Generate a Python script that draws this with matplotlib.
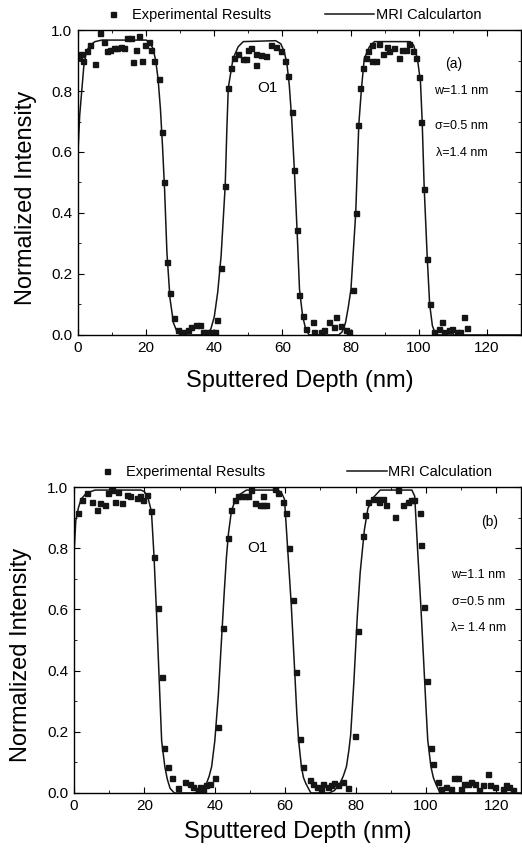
import matplotlib
matplotlib.use("Agg")
import matplotlib.pyplot as plt
from matplotlib.ticker import MultipleLocator

plt.rcParams['font.family'] = ['Liberation Sans', 'DejaVu Sans']

# ---- panel (a) ----
exp_a_x = [0.3, 0.8, 1.5, 2.5, 3.5, 5.0, 6.5, 7.5, 8.5, 9.5, 10.5, 11.5, 12.5, 13.5,
           14.5, 15.5, 16.0, 17.0, 17.8, 18.8, 19.8, 20.8, 21.5, 22.4, 23.8, 24.6,
           25.3, 26.1, 27.1, 28.1, 29.4, 30.8, 32.3, 33.3, 34.7, 35.7, 36.7, 37.7,
           39.1, 40.1, 40.8, 42.1, 43.2, 44.0, 45.0, 45.9, 46.9, 48.4, 49.4, 49.8,
           50.8, 52.3, 52.3, 53.8, 55.3, 56.7, 58.1, 59.6, 60.6, 61.5, 62.7, 63.5,
           64.3, 65.0, 65.9, 66.9, 68.9, 69.4, 71.3, 72.3, 73.8, 75.2, 75.7, 77.2,
           78.6, 79.6, 80.6, 81.5, 82.3, 82.9, 83.5, 84.5, 85.0, 86.4, 86.4, 87.4,
           88.4, 89.4, 90.8, 91.3, 92.8, 94.2, 95.2, 96.2, 97.2, 98.2, 99.1, 100.1,
           100.8, 101.6, 102.5, 103.2, 104.5, 105.9, 106.9, 107.4, 108.9, 109.8,
           111.2, 112.2, 113.3, 114.2]
exp_a_y = [0.91, 0.92, 0.90, 0.93, 0.95, 0.89, 0.99, 0.96, 0.93, 0.935, 0.94, 0.94, 0.945, 0.94,
           0.975, 0.975, 0.895, 0.935, 0.98, 0.90, 0.95, 0.96, 0.935, 0.90, 0.838, 0.667,
           0.50, 0.24, 0.137, 0.055, 0.016, 0.01, 0.016, 0.027, 0.033, 0.033, 0.01, 0.01,
           0.01, 0.01, 0.05, 0.22, 0.49, 0.81, 0.875, 0.907, 0.92, 0.905, 0.905, 0.934,
           0.94, 0.92, 0.885, 0.918, 0.915, 0.95, 0.945, 0.93, 0.90, 0.85, 0.73, 0.54,
           0.343, 0.13, 0.063, 0.02, 0.044, 0.01, 0.01, 0.016, 0.044, 0.027, 0.06, 0.03,
           0.016, 0.01, 0.148, 0.40, 0.69, 0.81, 0.875, 0.907, 0.93, 0.90, 0.95, 0.90,
           0.955, 0.92, 0.945, 0.93, 0.94, 0.907, 0.935, 0.935, 0.955, 0.93, 0.907, 0.847,
           0.70, 0.48, 0.25, 0.10, 0.011, 0.02, 0.044, 0.01, 0.016, 0.02,
           0.01, 0.01, 0.06, 0.022]

mri_a_x = [0, 0.5, 1.1, 1.7, 2.5, 3.5, 5, 7, 20, 21, 22, 22.8, 23.5, 24.2, 24.8, 25.4,
           26.1, 27.0, 28.0, 29.0, 30.0, 37.0, 38.0, 39.0, 40.0, 41.0, 42.0, 43.2, 43.7,
           44.1, 45.5, 47, 48.5, 58, 59.5, 60.5, 61.3, 62, 62.7, 63.5, 64.3, 65.0, 65.9,
           66.8, 67.8, 76.5, 77.5, 78.5, 79.3, 80.1, 81.5, 82.4, 83.2, 84.0, 85.5, 87,
           97.5, 98.5, 99.6, 100.5, 101.0, 101.6, 102.5, 103.2, 104.0, 105.0, 130]
mri_a_y = [0.60, 0.72, 0.80, 0.88, 0.93, 0.95, 0.962, 0.967, 0.967, 0.96, 0.94, 0.90, 0.84, 0.74, 0.62, 0.48,
           0.27, 0.12, 0.04, 0.012, 0.0, 0.0, 0.005, 0.02, 0.06, 0.14, 0.26, 0.49, 0.68,
           0.81, 0.906, 0.945, 0.962, 0.965, 0.955, 0.93, 0.89, 0.82, 0.71, 0.54, 0.34, 0.15, 0.063,
           0.02, 0.0, 0.0, 0.01, 0.04, 0.09, 0.15, 0.40, 0.69, 0.81, 0.906, 0.945, 0.962,
           0.962, 0.95, 0.906, 0.83, 0.70, 0.48, 0.25, 0.10, 0.03, 0.0, 0.0]

# ---- panel (b) ----
exp_b_x = [1.2, 2.2, 3.6, 5.0, 6.4, 7.4, 8.8, 9.7, 10.7, 11.6, 12.6, 13.5, 15.0, 15.9,
           17.8, 18.7, 19.7, 20.6, 22.0, 22.8, 23.9, 24.9, 25.6, 26.6, 27.7, 29.6,
           31.5, 32.9, 33.8, 35.3, 35.7, 36.6, 37.6, 38.6, 40.0, 40.9, 42.4, 43.8,
           44.7, 45.6, 46.6, 47.5, 48.5, 49.4, 50.4, 51.3, 52.7, 53.6, 53.6, 54.6,
           57.0, 58.0, 59.4, 60.3, 61.1, 62.2, 63.0, 64.1, 65.1, 67.0, 67.9, 68.9,
           70.3, 70.7, 72.1, 73.0, 74.0, 75.0, 76.4, 77.8, 79.7, 80.7, 82.1, 82.6,
           83.5, 84.9, 86.3, 86.7, 87.7, 88.7, 91.1, 92.0, 93.4, 94.8, 95.7, 96.6,
           98.2, 98.6, 99.3, 100.2, 101.3, 101.9, 103.4, 104.3, 105.8, 107.2, 108.1,
           109.0, 110.0, 110.9, 111.9, 112.8, 113.8, 115.2, 116.1, 117.6, 118.1,
           119.5, 121.8, 122.7, 123.7, 124.6]
exp_b_y = [0.914, 0.957, 0.98, 0.952, 0.925, 0.947, 0.94, 0.98, 0.99, 0.952, 0.984, 0.947, 0.974, 0.97,
           0.963, 0.97, 0.957, 0.974, 0.92, 0.772, 0.606, 0.378, 0.148, 0.086, 0.048, 0.015,
           0.037, 0.03, 0.02, 0.01, 0.02, 0.01, 0.026, 0.03, 0.048, 0.217, 0.538, 0.834,
           0.925, 0.957, 0.97, 0.97, 0.97, 0.97, 0.99, 0.947, 0.94, 0.97, 0.94, 0.94,
           0.995, 0.98, 0.952, 0.914, 0.80, 0.63, 0.394, 0.176, 0.086, 0.042, 0.03, 0.02,
           0.013, 0.03, 0.02, 0.025, 0.032, 0.025, 0.037, 0.015, 0.187, 0.53, 0.84, 0.91,
           0.952, 0.96, 0.96, 0.95, 0.96, 0.94, 0.903, 0.99, 0.94, 0.952, 0.957, 0.957,
           0.914, 0.81, 0.607, 0.367, 0.148, 0.094, 0.037, 0.013, 0.02, 0.013, 0.048,
           0.048, 0.013, 0.03, 0.03, 0.035, 0.03, 0.01, 0.026, 0.061, 0.025,
           0.02, 0.013, 0.026, 0.02, 0.01]

mri_b_x = [0, 0.5, 1.2, 2, 3.5, 6, 19, 20, 21, 22, 22.7, 23.4, 24.2, 24.9, 25.8, 26.5,
           27.3, 28.5, 34.0, 35.5, 36.5, 37.6, 38.4, 39.1, 40.0, 41.0, 42.0, 42.7, 43.3,
           43.9, 44.7, 45.7, 47, 49, 58, 59, 59.8, 60.8, 61.7, 62.6, 63.3, 63.8, 64.6,
           65.2, 65.9, 67.3, 72.5, 74.0, 75.5, 76.5, 77.4, 78.1, 78.6, 79.5, 80.5, 81.3,
           81.8, 82.5, 83.5, 85, 87, 96, 96.8, 97.7, 98.5, 99.3, 100.0, 100.5, 101.4,
           102.1, 102.8, 104.0, 127]
mri_b_y = [0.78, 0.89, 0.93, 0.96, 0.98, 0.99, 0.99, 0.985, 0.965, 0.92, 0.78, 0.60, 0.37, 0.17, 0.086, 0.045,
           0.015, 0.0, 0.0, 0.004, 0.012, 0.03, 0.055, 0.086, 0.17, 0.32, 0.52, 0.66, 0.77,
           0.85, 0.92, 0.955, 0.975, 0.99, 0.99, 0.98, 0.96, 0.78, 0.62, 0.42, 0.26, 0.173, 0.086,
           0.05, 0.03, 0.0, 0.0, 0.008, 0.03, 0.055, 0.086, 0.14, 0.19, 0.36, 0.58, 0.72,
           0.778, 0.86, 0.93, 0.965, 0.99, 0.99, 0.97, 0.778, 0.62, 0.44, 0.28, 0.173, 0.086,
           0.05, 0.03, 0.0, 0.0]

params_a = ["w=1.1 nm", "σ=0.5 nm", "λ=1.4 nm"]
params_b = ["w=1.1 nm", "σ=0.5 nm", "λ= 1.4 nm"]

fig = plt.figure(figsize=(5.22, 8.48), dpi=100)
ax_a = fig.add_axes([0.1494, 0.6050, 0.8487, 0.3596])
ax_b = fig.add_axes([0.1418, 0.0649, 0.8563, 0.3608])

panels = [
    dict(ax=ax_a, ex=exp_a_x, ey=exp_a_y, mx=mri_a_x, my=mri_a_y, xmax=130,
         mri_label="MRI Calcularton", lx1=0.066, lx2=0.557, hl=3.4,
         tag="(a)", tagpos=(0.847, 0.89), o1=(0.427, 0.81), params=params_a,
         px=0.866, py=(0.80, 0.685, 0.597), xl=-0.115),
    dict(ax=ax_b, ex=exp_b_x, ey=exp_b_y, mx=mri_b_x, my=mri_b_y, xmax=127,
         mri_label="MRI Calculation", lx1=0.060, lx2=0.611, hl=2.7,
         tag="(b)", tagpos=(0.93, 0.886), o1=(0.41, 0.80), params=params_b,
         px=0.904, py=(0.712, 0.624, 0.539), xl=-0.092),
]

for p in panels:
    ax = p['ax']
    h_exp, = ax.plot(p['ex'], p['ey'], 's', color='#151515', markersize=3.6,
                     label="Experimental Results")
    h_mri, = ax.plot(p['mx'], p['my'], '-', color='#151515', linewidth=1.1,
                     label=p['mri_label'])
    ax.set_xlim(0, p['xmax'])
    ax.set_ylim(0, 1.0)
    ax.xaxis.set_major_locator(MultipleLocator(20))
    ax.xaxis.set_minor_locator(MultipleLocator(10))
    ax.yaxis.set_major_locator(MultipleLocator(0.2))
    ax.yaxis.set_minor_locator(MultipleLocator(0.1))
    ax.yaxis.set_major_formatter(plt.FormatStrFormatter('%.1f'))
    ax.tick_params(which='both', direction='in', top=True, right=True, labelsize=11)
    ax.tick_params(axis='x', pad=4)
    ax.tick_params(axis='y', pad=4)
    ax.tick_params(which='major', length=4)
    ax.tick_params(which='minor', length=2)
    for s in ax.spines.values():
        s.set_linewidth(1.0)
    ax.set_xlabel("Sputtered Depth (nm)", fontsize=17)
    ax.set_ylabel("Normalized Intensity", fontsize=17)
    ax.xaxis.set_label_coords(0.5, p['xl'])
    ax.yaxis.set_label_coords(-0.093, 0.45)

    leg1 = ax.legend(handles=[h_exp], loc='center left', bbox_to_anchor=(p['lx1'], 1.05),
                     frameon=False, fontsize=10.5, handlelength=0.8, handletextpad=0.9,
                     borderpad=0, borderaxespad=0)
    ax.add_artist(leg1)
    ax.legend(handles=[h_mri], loc='center left', bbox_to_anchor=(p['lx2'], 1.05),
              frameon=False, fontsize=10.5, handlelength=p['hl'], handletextpad=0.1,
              borderpad=0, borderaxespad=0)

    ax.text(p['tagpos'][0], p['tagpos'][1], p['tag'], transform=ax.transAxes,
            fontsize=10, ha='center', va='center')
    ax.text(p['o1'][0], p['o1'][1], "O1", transform=ax.transAxes, fontsize=11,
            ha='center', va='center')
    for txt, yy in zip(p['params'], p['py']):
        ax.text(p['px'], yy, txt, transform=ax.transAxes, fontsize=9,
                ha='center', va='center')

fig.savefig("out.png", dpi=100)
